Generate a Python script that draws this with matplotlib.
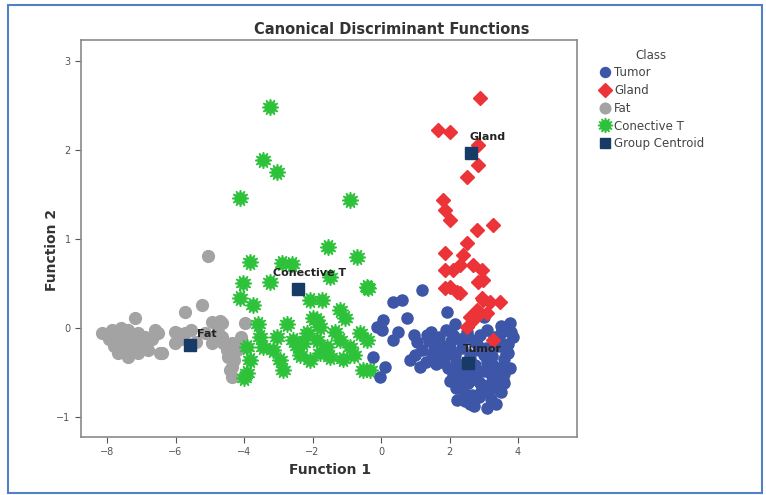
import numpy as np
import matplotlib
matplotlib.use("Agg")
import matplotlib.pyplot as plt
from matplotlib.patches import Rectangle

# Function 1 / Function 2 scores
tumor_x = [1.20, 0.35, 0.61, 1.93, 0.76, 0.06, -0.12, 0.03, 0.35, 1.05, -0.23, 0.12, -0.03,
           0.85, 1.14, 1.64, 2.22, 3.77, 2.89, 1.45, 1.70, 1.90, 2.10, 2.30, 2.50, 2.70,
           2.90, 3.10, 3.30, 3.50, 1.55, 1.80, 2.05, 2.35, 2.60, 2.85, 3.15, 3.40, 3.65,
           1.60, 1.95, 2.20, 2.45, 2.75, 3.00, 3.25, 3.55, 2.00, 2.30, 2.55, 2.80, 3.05,
           3.30, 2.40, 2.65, 2.95, 3.20, 3.45, 3.60, 3.35, 3.10, 2.85, 2.60, 3.00, 3.50,
           0.50, 0.95, 1.30, 3.70, 3.85, 2.15,
           1.40, 1.65, 1.85, 2.15, 2.40, 2.60, 2.80, 3.05, 3.25, 3.45, 3.70,
           1.50, 1.75, 2.00, 2.25, 2.50, 2.75, 3.00, 3.20, 3.40, 3.60, 3.80,
           1.35, 1.70, 2.10, 2.35, 2.65, 2.90, 3.15, 3.35, 3.55, 1.20, 1.00,
           2.20, 2.45, 2.70, 2.95, 3.25, 3.50, 3.75, 2.05, 2.55, 3.10, 3.60]
tumor_y = [0.43, 0.29, 0.31, 0.18, 0.11, 0.09, 0.01, -0.02, -0.13, -0.16, -0.33, -0.44, -0.55,
           -0.36, -0.44, -0.13, -0.81, 0.06, -0.73, -0.05, -0.10, -0.02, -0.08, -0.12, -0.05,
           -0.15, -0.08, -0.02, -0.10, -0.06, -0.25, -0.20, -0.28, -0.22, -0.30, -0.25, -0.32,
           -0.20, -0.28, -0.40, -0.45, -0.38, -0.50, -0.42, -0.48, -0.40, -0.46, -0.60, -0.55,
           -0.62, -0.58, -0.65, -0.55, -0.70, -0.75, -0.68, -0.80, -0.60, -0.35, -0.85, -0.90,
           -0.78, -0.85, 0.12, 0.02, -0.05, -0.08, -0.38, -0.28, -0.10, 0.05,
           -0.15, -0.18, -0.35, -0.30, -0.12, -0.35, -0.18, -0.22, -0.32, -0.14, -0.18,
           -0.30, -0.38, -0.22, -0.45, -0.38, -0.55, -0.30, -0.52, -0.45, -0.52, -0.05,
           -0.08, -0.28, -0.52, -0.62, -0.48, -0.62, -0.70, -0.68, -0.58, -0.25, -0.30,
           -0.68, -0.82, -0.88, -0.72, -0.60, -0.72, -0.45, -0.15, -0.10, -0.38, -0.62]

gland_x = [2.89, 1.66, 2.01, 2.83, 2.83, 2.51, 1.81, 1.87, 2.01, 2.80, 3.27, 2.51, 1.87, 2.39,
           2.31, 1.87, 2.69, 2.95, 2.10, 2.98, 2.83, 1.87, 2.22, 2.95, 3.18, 3.47, 2.80, 3.09,
           2.69, 2.51, 3.27, 2.01, 2.30, 2.98, 2.60, 2.90]
gland_y = [2.58, 2.22, 2.20, 2.06, 1.83, 1.70, 1.44, 1.33, 1.21, 1.10, 1.16, 0.96, 0.84, 0.82,
           0.71, 0.65, 0.71, 0.65, 0.65, 0.54, 0.52, 0.45, 0.40, 0.34, 0.29, 0.29, 0.20, 0.17,
           0.09, 0.01, -0.13, 0.46, 0.39, 0.31, 0.12, 0.17]

fat_x = [-8.15, -7.85, -7.68, -7.39, -7.09, -7.56, -7.27, -6.98, -7.68, -7.39, -7.09, -6.80,
         -6.51, -6.39, -7.18, -6.60, -6.01, -5.72, -6.01, -5.72, -5.23, -4.93, -4.64, -3.97,
         -5.14, -4.93, -4.64, -4.35, -4.47, -4.35, -4.35, -5.05, -6.45, -7.95, -7.50, -6.70,
         -5.96, -4.70, -4.20, -4.30, -4.40, -4.10, -4.90, -4.60, -5.40, -7.80, -7.20, -6.90,
         -7.60, -7.40, -7.00, -6.85, -7.30, -4.75, -4.50, -4.20, -5.55, -5.85]
fat_y = [-0.06, -0.02, -0.10, -0.02, -0.06, -0.17, -0.17, -0.21, -0.28, -0.33, -0.28, -0.25,
         -0.06, -0.28, 0.11, -0.02, -0.04, -0.06, -0.17, 0.18, 0.26, 0.07, 0.06, 0.06,
         -0.06, -0.17, -0.10, -0.17, -0.33, -0.44, -0.55, 0.81, -0.28, -0.12, -0.24, -0.12,
         -0.06, 0.08, -0.25, -0.36, -0.47, -0.10, -0.13, -0.17, -0.16, -0.20, -0.27, -0.10,
         0.00, -0.10, -0.10, -0.15, -0.25, -0.05, -0.25, -0.20, -0.02, -0.12]

conect_x = [-3.24, -3.45, -3.04, -4.12, -0.91, -1.55, -0.70, -3.82, -2.89, -4.03, -3.24, -1.49,
            -0.41, -4.12, -3.74, -2.07, -1.72, -1.99, -1.20, -1.05, -1.78, -3.53, -3.04, -2.57,
            -2.28, -1.87, -1.58, -1.20, -0.91, -0.61, -0.41, -3.91, -3.82, -3.91, -3.15, -2.95,
            -2.86, -2.36, -2.07, -1.78, -1.49, -0.53, -2.16, -3.45, -0.38, -1.87, -0.32, -4.00,
            -2.60, -1.35, -2.75, -2.45, -3.60, -0.80, -1.10]
conect_y = [2.48, 1.89, 1.75, 1.46, 1.44, 0.91, 0.80, 0.74, 0.73, 0.51, 0.52, 0.57,
            0.46, 0.34, 0.26, 0.31, 0.31, 0.11, 0.20, 0.11, 0.01, -0.10, -0.10, -0.13,
            -0.17, -0.13, -0.21, -0.13, -0.21, -0.06, -0.13, -0.21, -0.36, -0.51, -0.25, -0.36,
            -0.47, -0.30, -0.36, -0.28, -0.33, -0.47, -0.06, -0.21, 0.45, 0.09, -0.47, -0.56,
            0.72, -0.05, 0.05, -0.20, 0.05, -0.30, -0.35]

centroid_names = ["Tumor", "Gland", "Fat", "Conective T"]
centroid_x = [2.54, 2.63, -5.58, -2.42]
centroid_y = [-0.39, 1.97, -0.19, 0.44]

fig = plt.figure(figsize=(7.66, 4.95), dpi=100)
ax = fig.add_axes([81/766, 1 - 437/495, 496/766, 397/495])

ax.plot(fat_x, fat_y, 'o', color='#a3a3a3', ms=8.5, mec='#a3a3a3', label='Fat', zorder=2)
ax.plot(conect_x, conect_y, marker=(12, 1, 0), ls='none', color='#2dc23a', ms=12,
        mec='#2dc23a', label='Conective T', zorder=3)
ax.plot(tumor_x, tumor_y, 'o', color='#3d56a8', ms=8, mec='#3d56a8', label='Tumor', zorder=3)
ax.plot(gland_x, gland_y, 'D', color='#ec3338', ms=7.5, mec='#ec3338', label='Gland', zorder=4)
ax.plot(centroid_x, centroid_y, 's', color='#173a66', ms=8, mec='#173a66',
        label='Group Centroid', zorder=5)

label_off = {"Tumor": (-4, 8), "Gland": (-1, 9), "Fat": (5, 6), "Conective T": (-18, 9)}
for name, cx, cy in zip(centroid_names, centroid_x, centroid_y):
    ax.annotate(name, (cx, cy), xytext=label_off[name], textcoords='offset points',
                fontsize=8, fontweight='bold', color='#222222', zorder=6)

ax.set_xlim(-8.76, 5.72)
ax.set_ylim(-1.225, 3.236)
ax.set_xticks([-8, -6, -4, -2, 0, 2, 4])
ax.set_yticks([-1, 0, 1, 2, 3])
ax.tick_params(labelsize=7, colors='#555555', length=4)
for s in ax.spines.values():
    s.set_color('#8a8a8a')
    s.set_linewidth(1.2)

fig.text(330/766, 1 - 470/495, "Function 1", ha='center', va='center', fontsize=10,
         fontweight='bold', color='#333333')
fig.text(52/766, 1 - 250/495, "Function 2", ha='center', va='center', fontsize=10,
         fontweight='bold', color='#333333', rotation=90)
fig.text(392/766, 1 - 30/495, "Canonical Discriminant Functions", ha='center', va='center',
         fontsize=10.5, fontweight='bold', color='#333333')

handles, labels = ax.get_legend_handles_labels()
order = [2, 3, 0, 1, 4]
leg = fig.legend([handles[i] for i in order], [labels[i] for i in order], title='Class',
                 loc='upper left', bbox_to_anchor=(588/766, 1 - 38/495), frameon=False,
                 fontsize=8.5, title_fontsize=8.5, handletextpad=0.3, labelspacing=0.4,
                 handlelength=1.0, markerscale=0.9)
for t in leg.get_texts():
    t.set_color('#444444')
leg.get_title().set_color('#444444')

fig.patches.append(Rectangle((8/766, 2/495), 754/766, 488/495, transform=fig.transFigure,
                             fill=False, ec='#4f81c4', lw=1.5))

fig.savefig("out.png", dpi=100)
